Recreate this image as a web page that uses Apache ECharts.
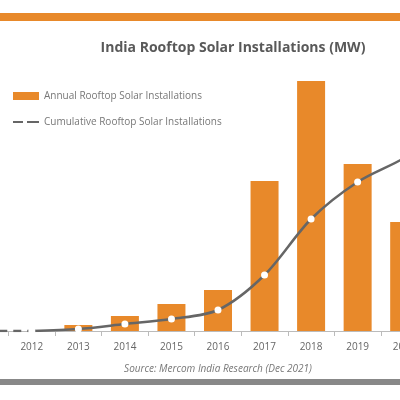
<!DOCTYPE html><html><head><meta charset="utf-8"><script src="https://cdn.jsdelivr.net/npm/echarts@6/dist/echarts.min.js"></script>
<style>body{margin:0;overflow:hidden}#c{position:absolute;left:-38px;top:0;width:512px;height:400px}</style></head><body><div id="c"></div><script>
const years=['2011','2012','2013','2014','2015','2016','2017','2018','2019','2020','2021'];
const annual=[0,0,36,90,162,246,900,1500,1002,654,700];
const cumDashed=[0,0,null,null,null,null,null,null,null,null,null];
const cumSolid=[null,0,40,140,240,420,1120,2240,2980,3460,4100];
const chart=echarts.init(document.getElementById('c'));
const orange='#E8892A',gray='#666',ox=38;
chart.setOption({
 animation:false,backgroundColor:'#fff',
 title:{text:'India Rooftop Solar Installations (MW)',left:228+ox,top:36,textAlign:'center',textStyle:{fontFamily:'Open Sans',fontSize:14,fontWeight:'bold',color:'#595959'}},
 legend:{orient:'vertical',left:8+ox,top:86,itemGap:16,itemWidth:26,itemHeight:8,textStyle:{fontFamily:'Open Sans',fontSize:10,color:'#777'},
  data:[{name:'Annual Rooftop Solar Installations',icon:'rect'},{name:'Cumulative Rooftop Solar Installations',icon:'path://M0,4h10v2H0zM14,4h12v2H14z',itemStyle:{color:gray}}]},
 grid:{left:0,right:0,top:31,bottom:69},
 xAxis:{type:'category',data:years,axisLine:{lineStyle:{color:'#bbb'}},axisTick:{show:true,lineStyle:{color:'#bbb'}},axisLabel:{color:'#666',fontFamily:'Open Sans',fontSize:10,margin:11}},
 yAxis:[{type:'value',min:0,max:1800,show:false},{type:'value',min:0,max:6000,show:false}],
 graphic:[
  {type:'rect',shape:{x:0,y:13,width:512,height:8},style:{fill:orange}},
  {type:'rect',shape:{x:0,y:379,width:512,height:6},style:{fill:'#888'}},
  {type:'text',x:218+ox,y:364,style:{text:'Source: Mercom India Research (Dec 2021)',fontFamily:'Open Sans',fontStyle:'italic',fontSize:10,fill:'#777',align:'center'}}
 ],
 series:[
  {name:'Annual Rooftop Solar Installations',type:'bar',data:annual,barWidth:28,itemStyle:{color:orange}},
  {name:'cumDash',type:'line',yAxisIndex:1,data:cumDashed,symbol:'none',lineStyle:{color:gray,width:2.5,type:[8,6]},itemStyle:{color:gray}},
  {name:'Cumulative Rooftop Solar Installations',type:'line',yAxisIndex:1,data:cumSolid,smooth:0.3,symbol:'circle',symbolSize:7,showSymbol:true,
   itemStyle:{color:'#fff',borderWidth:0},lineStyle:{color:gray,width:2.5},z:3}
 ]
});
</script></body></html>
